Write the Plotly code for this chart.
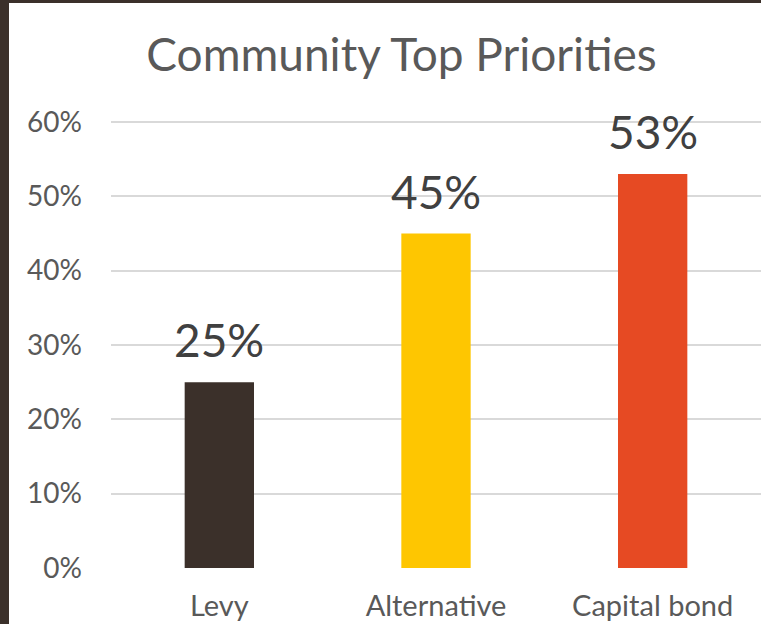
import plotly.graph_objects as go

categories = ["Levy", "Alternative", "Capital bond"]
shares = [0.25, 0.45, 0.53]
bar_colors = ["#3b302a", "#fec601", "#e64a23"]
tick_vals = [0, 0.1, 0.2, 0.3, 0.4, 0.5, 0.6]
tick_text = ["0%", "10%", "20%", "30%", "40%", "50%", "60%"]

W, H = 761, 624
ML, MR, MT, MB = 111, 0, 116, 56
PW, PH = W - ML - MR, H - MT - MB
Y_TOP = 0.6 * PH / (PH - 6)  # a little headroom so the 60% gridline is kept
FRAME = "#3b302a"
FONT = "Lato, Carlito, Calibri, sans-serif"

fig = go.Figure(
    go.Bar(
        x=categories,
        y=shares,
        marker=dict(color=bar_colors, line=dict(width=0)),
        width=0.32,
        hoverinfo="skip",
    )
)

# value labels above each bar
for cat, val in zip(categories, shares):
    fig.add_annotation(
        x=cat, y=val, text=f"{round(val * 100)}%",
        showarrow=False, yanchor="bottom", yshift=13,
        font=dict(family=FONT, size=46, color="#404040"),
    )

# dark frame along the left and top edges
fig.add_shape(type="rect", xref="paper", yref="paper",
              x0=-ML / PW, x1=(9 - ML) / PW, y0=-MB / PH, y1=(H - MB) / PH,
              fillcolor=FRAME, line=dict(width=0), layer="above")
fig.add_shape(type="rect", xref="paper", yref="paper",
              x0=-ML / PW, x1=1.0, y0=(H - MB - 3) / PH, y1=(H - MB) / PH,
              fillcolor=FRAME, line=dict(width=0), layer="above")

fig.update_layout(
    width=W, height=H,
    margin=dict(l=ML, r=MR, t=MT, b=MB, autoexpand=False),
    paper_bgcolor="white", plot_bgcolor="white",
    showlegend=False,
    title=dict(
        text="Community Top Priorities",
        x=401.5 / W, xanchor="center", xref="container",
        y=1 - 55 / H, yanchor="middle", yref="container",
        font=dict(family=FONT, size=46, color="#595959"),
    ),
    xaxis=dict(
        showgrid=False, zeroline=False, showline=False, ticks="",
        tickfont=dict(family=FONT, size=29, color="#595959"),
        ticklabelstandoff=18, automargin=False, fixedrange=True,
    ),
    yaxis=dict(
        range=[0, Y_TOP], tickvals=tick_vals, ticktext=tick_text,
        showgrid=True, gridcolor="#d9d9d9", gridwidth=2,
        zeroline=False, showline=False, ticks="",
        tickfont=dict(family=FONT, size=28, color="#595959"),
        ticklabelstandoff=28, automargin=False, fixedrange=True,
    ),
)

fig.write_html("out.html", config={"displayModeBar": False})
